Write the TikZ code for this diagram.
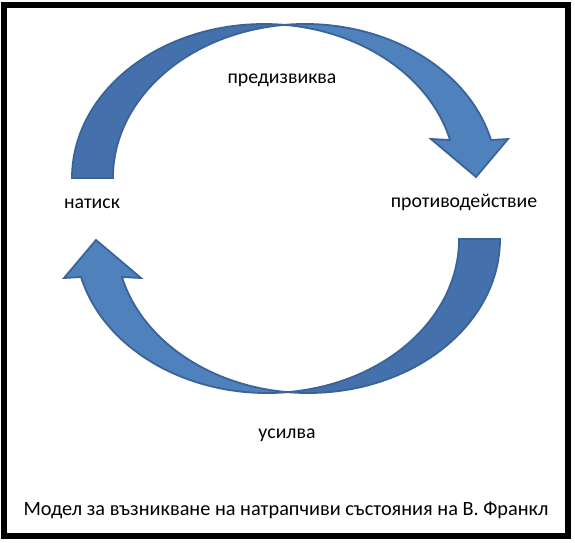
\documentclass[tikz,border=0pt]{standalone}
\usepackage{fontspec}
\setmainfont{Carlito}
\definecolor{arrowfill}{HTML}{4F81BD}
\definecolor{arrowback}{HTML}{4470AC}
\definecolor{arrowline}{HTML}{3A639A}
\tikzset{
  backpart/.style={fill=arrowback},
  frontpart/.style={fill=arrowfill},
  arrowoutline/.style={draw=arrowline, line width=1.8pt, line join=miter},
  label/.style={font=\fontsize{19.8}{22}\selectfont, text=black, inner sep=0pt},
  captionstyle/.style={font=\fontsize{20.3}{23}\selectfont, text=black, inner sep=0pt},
  frame/.style={draw=black, line width=6pt}
}
\begin{document}
\begin{tikzpicture}[x=1pt,y=1pt]
\useasboundingbox (0,0) rectangle (575,-542);
\fill[white] (0,0) rectangle (575,-542);
\draw[frame] (3.5,-4.5) rectangle (567.5,-535.5);

% ---- top arrow (curved down) ----
\path[backpart] (72,-178) arc[start angle=180,end angle=83.87,x radius=192,y radius=154]
  arc[start angle=96.13,end angle=180,x radius=192,y radius=154] -- cycle;
\path[frontpart] (284.5,-24.9) arc[start angle=96.13,end angle=14.29,x radius=192,y radius=154]
  -- (508,-139) -- (476,-177) -- (431,-139) -- (450,-140)
  arc[start angle=14.29,end angle=83.87,x radius=192,y radius=154] -- cycle;
\draw[arrowoutline] (72,-178) arc[start angle=180,end angle=14.29,x radius=192,y radius=154]
  -- (431,-139) -- (476,-177) -- (508,-139) -- (491,-140)
  arc[start angle=14.29,end angle=180,x radius=192,y radius=154] -- cycle;

% ---- bottom arrow (curved up) ----
\path[backpart] (500,-239) arc[start angle=0,end angle=-96.13,x radius=192,y radius=154]
  arc[start angle=-83.87,end angle=0,x radius=192,y radius=154] -- cycle;
\path[frontpart] (287.5,-392.1) arc[start angle=-83.87,end angle=-165.71,x radius=192,y radius=154]
  -- (64,-278) -- (96,-240) -- (141,-278) -- (122,-277)
  arc[start angle=-165.71,end angle=-96.13,x radius=192,y radius=154] -- cycle;
\draw[arrowoutline] (500,-239) arc[start angle=0,end angle=-165.71,x radius=192,y radius=154]
  -- (141,-278) -- (96,-240) -- (64,-278) -- (81,-277)
  arc[start angle=-165.71,end angle=0,x radius=192,y radius=154] -- cycle;

% ---- labels ----
\node[label] (provokes) at (282,-80) {предизвиква};
\node[label] (pressure) at (92,-204) {натиск};
\node[label] (counter) at (464,-202) {противодействие};
\node[label] (amplifies) at (287,-435) {усилва};
\node[captionstyle] (caption) at (286,-510) {Модел за възникване на натрапчиви състояния на В. Франкл};
\end{tikzpicture}
\end{document}
